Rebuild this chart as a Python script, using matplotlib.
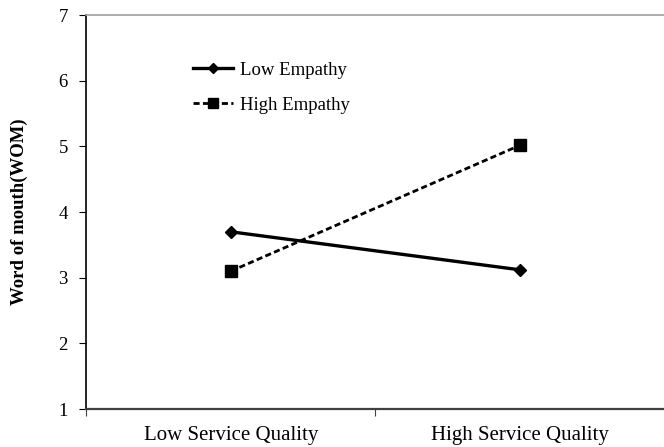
import matplotlib.pyplot as plt

plt.rcParams["font.family"] = ["Liberation Serif", "DejaVu Serif"]

categories = ["Low Service Quality", "High Service Quality"]
low_empathy = [3.70, 3.12]
high_empathy = [3.10, 5.02]
y_ticks = [1, 2, 3, 4, 5, 6, 7]

fig = plt.figure(figsize=(6.64, 4.47), dpi=100)
ax = fig.add_axes([0.1295, 0.085, 0.872, 0.881])

x = [0.5, 1.5]
ax.plot(x, low_empathy, color="black", lw=2.4, marker="D", ms=6.5,
        label="Low Empathy")
ax.plot(x, high_empathy, color="black", lw=2.0, ls=(0, (2.2, 1.2)),
        marker="s", ms=8, label="High Empathy")

ax.set_xlim(0, 2)
ax.set_ylim(1, 7)
ax.set_yticks(y_ticks)
ax.set_xticks([0, 1, 2])
ax.set_xticklabels([])
ax.set_xticks(x, minor=True)
ax.set_xticklabels(categories, minor=True)
ax.tick_params(axis="x", which="minor", length=0, pad=12, labelsize=15)
ax.tick_params(axis="x", which="major", length=5, direction="out",
               color="#404040")
ax.tick_params(axis="y", length=5, direction="out", labelsize=13.5, pad=8)

ax.spines["right"].set_visible(False)
ax.spines["top"].set_color("#a0a0a0")
ax.spines["top"].set_linewidth(1.2)
ax.spines["left"].set_linewidth(1.2)
ax.spines["bottom"].set_color("#404040")
ax.spines["bottom"].set_linewidth(1.6)

ax.set_ylabel("Word of mouth(WOM)", fontsize=13.5, fontweight="bold",
              labelpad=22)

ax.legend(loc="upper left", bbox_to_anchor=(0.156, 0.925), frameon=False,
          fontsize=13.5, handlelength=2.1, labelspacing=0.95,
          handletextpad=0.4, markerscale=0.85)

fig.savefig("out.png", dpi=100)
